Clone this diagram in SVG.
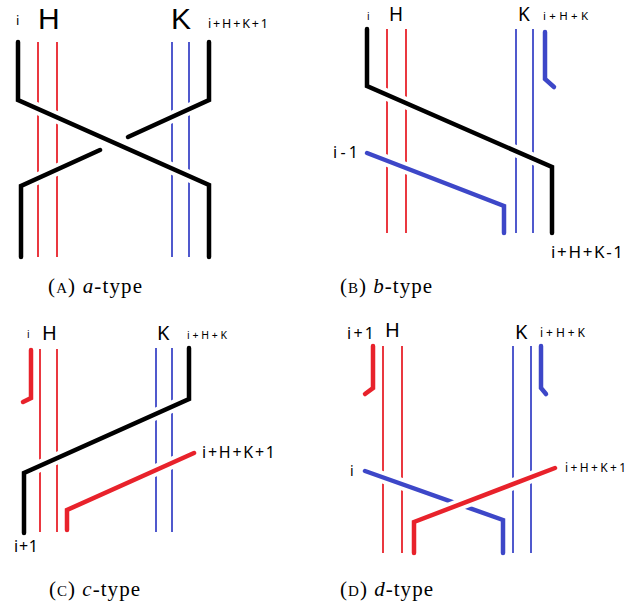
<svg xmlns="http://www.w3.org/2000/svg" width="626" height="613" viewBox="0 0 626 613">
<style>
.thinR{stroke:#e8222b;stroke-width:1.8;fill:none}
.thinB{stroke:#3d47c8;stroke-width:1.8;fill:none}
.halo{stroke:#ffffff;stroke-width:12;fill:none;stroke-linecap:butt}
.k{stroke:#000000;stroke-width:4.5;fill:none;stroke-linecap:round;stroke-linejoin:miter}
.r{stroke:#e8222b;stroke-width:4.5;fill:none;stroke-linecap:round;stroke-linejoin:miter}
.b{stroke:#3d47c8;stroke-width:4.5;fill:none;stroke-linecap:round;stroke-linejoin:miter}
.lbl{font-family:"Noto Sans","Open Sans","DejaVu Sans",sans-serif;fill:#000}
.big{font-family:"Liberation Sans","Noto Sans",sans-serif;fill:#000}
.cap{font-family:"Liberation Serif","DejaVu Serif",serif;fill:#000;font-size:21px}
.sc{font-size:15px}
</style>
<rect width="626" height="613" fill="#ffffff"/>

<g id="panel-a">
  <text class="lbl" x="16" y="25" font-size="13">i</text>
  <text class="big" x="38" y="29" font-size="30">H</text>
  <text class="big" x="171" y="29" font-size="30">K</text>
  <text class="lbl" x="208" y="28" font-size="12.5" textLength="60" lengthAdjust="spacing">i+H+K+1</text>
  <g id="a-thin">
    <line class="thinR" x1="38" y1="42" x2="38" y2="257"/>
    <line class="thinR" x1="57" y1="42" x2="57" y2="257"/>
    <line class="thinB" x1="172" y1="42" x2="172" y2="257"/>
    <line class="thinB" x1="189" y1="42" x2="189" y2="257"/>
  </g>
  <g id="a-strands">
    <path class="halo" d="M209,42 L209,100 L128,137"/>
    <path class="k" d="M209,42 L209,100 L128,137"/>
    <path class="halo" d="M100,150 L21,186 L21,257"/>
    <path class="k" d="M100,150 L21,186 L21,257"/>
    <path class="halo" d="M18,42 L18,100 L209,185 L209,257"/>
    <path class="k" d="M18,42 L18,100 L209,185 L209,257"/>
  </g>
</g>

<g id="panel-b">
  <text class="lbl" x="367" y="20" font-size="10">i</text>
  <text class="lbl" x="389" y="21" font-size="19">H</text>
  <text class="lbl" x="518" y="21" font-size="19">K</text>
  <text class="lbl" x="543" y="20" font-size="11.5" textLength="45" lengthAdjust="spacing">i+H+K</text>
  <text class="lbl" x="333" y="158" font-size="16" textLength="25" lengthAdjust="spacing">i-1</text>
  <text class="lbl" x="551" y="258" font-size="17" textLength="72" lengthAdjust="spacing">i+H+K-1</text>
  <g id="b-thin">
    <line class="thinR" x1="387" y1="29" x2="387" y2="233"/>
    <line class="thinR" x1="406" y1="29" x2="406" y2="233"/>
    <line class="thinB" x1="516" y1="29" x2="516" y2="233"/>
    <line class="thinB" x1="533" y1="29" x2="533" y2="233"/>
  </g>
  <g id="b-strands">
    <path class="b" d="M545,32 L545,79 L554,87"/>
    <path class="halo" d="M367,153 L504,206 L504,233"/>
    <path class="b" d="M367,153 L504,206 L504,233"/>
    <path class="halo" d="M367,29 L367,86 L552,167 L552,233"/>
    <path class="k" d="M367,29 L367,86 L552,167 L552,233"/>
  </g>
</g>

<g id="panel-c">
  <text class="lbl" x="27" y="338" font-size="10">i</text>
  <text class="lbl" x="42" y="340" font-size="20">H</text>
  <text class="lbl" x="157" y="340" font-size="20">K</text>
  <text class="lbl" x="187" y="339" font-size="10.5" textLength="40" lengthAdjust="spacing">i+H+K</text>
  <text class="lbl" x="202" y="458" font-size="16" textLength="73" lengthAdjust="spacing">i+H+K+1</text>
  <text class="lbl" x="14" y="552" font-size="16" textLength="24" lengthAdjust="spacing">i+1</text>
  <g id="c-thin">
    <line class="thinR" x1="40" y1="349" x2="40" y2="532"/>
    <line class="thinR" x1="57" y1="349" x2="57" y2="532"/>
    <line class="thinB" x1="156" y1="348" x2="156" y2="532"/>
    <line class="thinB" x1="172" y1="348" x2="172" y2="532"/>
  </g>
  <g id="c-strands">
    <path class="r" d="M31,350 L31,398 L23,402"/>
    <path class="halo" d="M194,453 L67,510 L67,530"/>
    <path class="r" d="M194,453 L67,510 L67,530"/>
    <path class="halo" d="M189,348 L189,399 L24,473 L24,533"/>
    <path class="k" d="M189,348 L189,399 L24,473 L24,533"/>
  </g>
</g>

<g id="panel-d">
  <text class="lbl" x="347" y="339" font-size="16" textLength="27" lengthAdjust="spacing">i+1</text>
  <text class="lbl" x="385" y="337" font-size="20">H</text>
  <text class="lbl" x="515" y="339" font-size="20">K</text>
  <text class="lbl" x="540" y="337" font-size="12" textLength="45" lengthAdjust="spacing">i+H+K</text>
  <text class="lbl" x="350" y="476" font-size="14">i</text>
  <text class="lbl" x="565" y="472" font-size="12" textLength="61" lengthAdjust="spacing">i+H+K+1</text>
  <g id="d-thin">
    <line class="thinR" x1="383" y1="346" x2="383" y2="553"/>
    <line class="thinR" x1="402" y1="346" x2="402" y2="553"/>
    <line class="thinB" x1="513" y1="346" x2="513" y2="553"/>
    <line class="thinB" x1="531" y1="346" x2="531" y2="553"/>
  </g>
  <g id="d-strands">
    <path class="r" d="M373,346 L373,388 L365,394"/>
    <path class="b" d="M541,346 L541,388 L546,394"/>
    <path class="halo" d="M365,471 L503,520 L503,553"/>
    <path class="b" d="M365,471 L503,520 L503,553"/>
    <path class="halo" d="M555,468 L414,522 L414,553"/>
    <path class="r" d="M555,468 L414,522 L414,553"/>
  </g>
</g>

<g id="captions">
  <text class="cap" x="48" y="293" textLength="94" lengthAdjust="spacing">(<tspan class="sc">A</tspan>) <tspan font-style="italic">a</tspan>-type</text>
  <text class="cap" x="340" y="293" textLength="92" lengthAdjust="spacing">(<tspan class="sc">B</tspan>) <tspan font-style="italic">b</tspan>-type</text>
  <text class="cap" x="49" y="596" textLength="91" lengthAdjust="spacing">(<tspan class="sc">C</tspan>) <tspan font-style="italic">c</tspan>-type</text>
  <text class="cap" x="340" y="596" textLength="93" lengthAdjust="spacing">(<tspan class="sc">D</tspan>) <tspan font-style="italic">d</tspan>-type</text>
</g>
</svg>
